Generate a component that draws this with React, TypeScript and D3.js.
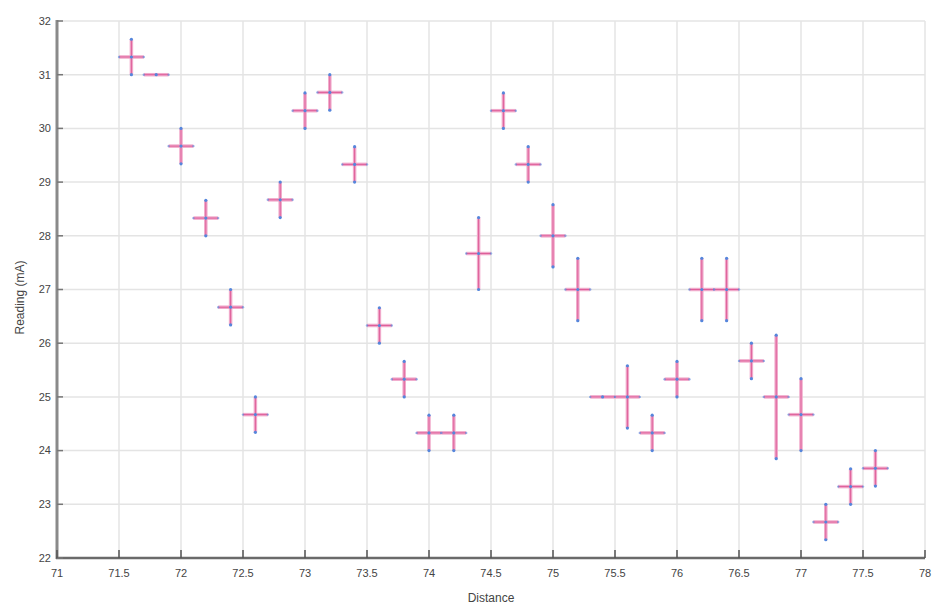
import React from "react";
import * as d3 from "d3";

const xValues = [71.6, 71.8, 72.0, 72.2, 72.4, 72.6, 72.8, 73.0, 73.2, 73.4, 73.6, 73.8, 74.0, 74.2, 74.4, 74.6, 74.8, 75.0, 75.2, 75.4, 75.6, 75.8, 76.0, 76.2, 76.4, 76.6, 76.8, 77.0, 77.2, 77.4, 77.6];
const yValues = [31.33, 31.0, 29.67, 28.33, 26.67, 24.67, 28.67, 30.33, 30.67, 29.33, 26.33, 25.33, 24.33, 24.33, 27.67, 30.33, 29.33, 28.0, 27.0, 25.0, 25.0, 24.33, 25.33, 27.0, 27.0, 25.67, 25.0, 24.67, 22.67, 23.33, 23.67];
const yErrors = [0.33, 0, 0.33, 0.33, 0.33, 0.33, 0.33, 0.33, 0.33, 0.33, 0.33, 0.33, 0.33, 0.33, 0.67, 0.33, 0.33, 0.58, 0.58, 0, 0.58, 0.33, 0.33, 0.58, 0.58, 0.33, 1.15, 0.67, 0.33, 0.33, 0.33];
const xErrors = xValues.map(() => 0.1);
const xTicks = [71, 71.5, 72, 72.5, 73, 73.5, 74, 74.5, 75, 75.5, 76, 76.5, 77, 77.5, 78];
const yTicks = [22, 23, 24, 25, 26, 27, 28, 29, 30, 31, 32];
const xLabel = "Distance";
const yLabel = "Reading (mA)";

const W = 932, H = 604;
const left = 57, right = 925, top = 21, bottom = 558;

export default function App() {
  const x = d3.scaleLinear().domain([71, 78]).range([left, right]);
  const y = d3.scaleLinear().domain([22, 32]).range([bottom, top]);
  const fmt = (v: number) => String(v);
  const pink = "#f0a8ca";
  const pinkDark = "#de5e99";
  const blue = "#5586dc";
  const font = "'Liberation Sans', Arial, sans-serif";
  return (
    <svg width={W} height={H} style={{ position: "absolute", left: 0, top: 0, background: "#fff" }}>
      {xTicks.map((t) => (
        <line key={"gx" + t} x1={x(t)} x2={x(t)} y1={top} y2={bottom} stroke="#e4e4e4" strokeWidth={1.5} />
      ))}
      {yTicks.map((t) => (
        <line key={"gy" + t} x1={left} x2={right} y1={y(t)} y2={y(t)} stroke="#e4e4e4" strokeWidth={1.5} />
      ))}
      {xValues.map((xv, i) => {
        const yv = yValues[i];
        const ye = yErrors[i];
        const xe = xErrors[i];
        const cx = x(xv), cy = y(yv);
        const x0 = x(xv - xe), x1 = x(xv + xe);
        const y0 = y(yv + ye), y1 = y(yv - ye);
        return (
          <g key={"p" + i}>
            <line x1={x0} x2={x1} y1={cy} y2={cy} stroke={pink} strokeWidth={3.5} />
            {ye > 0 && <line x1={cx} x2={cx} y1={y0} y2={y1} stroke={pink} strokeWidth={3.5} />}
            <line x1={x0} x2={x1} y1={cy} y2={cy} stroke={pinkDark} strokeWidth={1} />
            {ye > 0 && <line x1={cx} x2={cx} y1={y0} y2={y1} stroke={pinkDark} strokeWidth={1} />}
            <circle cx={cx} cy={cy} r={1.6} fill={blue} />
            {ye > 0 && <circle cx={cx} cy={y0} r={1.6} fill={blue} />}
            {ye > 0 && <circle cx={cx} cy={y1} r={1.6} fill={blue} />}
            <circle cx={x0} cy={cy} r={1.2} fill={blue} opacity={0.6} />
            <circle cx={x1} cy={cy} r={1.2} fill={blue} opacity={0.6} />
          </g>
        );
      })}
      <line x1={left} x2={left} y1={top - 1} y2={bottom + 1} stroke="#8a8a8a" strokeWidth={3} />
      <line x1={left - 1} x2={right} y1={bottom} y2={bottom} stroke="#6a6a6a" strokeWidth={2.5} />
      {yTicks.map((t) => (
        <g key={"ty" + t}>
          <line x1={left} x2={left + 6} y1={y(t)} y2={y(t)} stroke="#777" strokeWidth={1.5} />
          <text x={left - 6} y={y(t)} dy="0.35em" textAnchor="end" fontSize={11} fontFamily={font} fill="#444">{fmt(t)}</text>
        </g>
      ))}
      {xTicks.map((t) => (
        <g key={"tx" + t}>
          <line x1={x(t)} x2={x(t)} y1={bottom} y2={bottom - 8} stroke="#555" strokeWidth={1.5} />
          <text x={x(t)} y={bottom + 19} textAnchor="middle" fontSize={11} fontFamily={font} fill="#444">{fmt(t)}</text>
        </g>
      ))}
      <text x={(left + right) / 2} y={H - 2} textAnchor="middle" fontSize={12} fontFamily={font} fill="#444">{xLabel}</text>
      <text transform={`translate(24, ${(top + bottom) / 2 + 8}) rotate(-90)`} textAnchor="middle" fontSize={12} fontFamily={font} fill="#444">{yLabel}</text>
    </svg>
  );
}
